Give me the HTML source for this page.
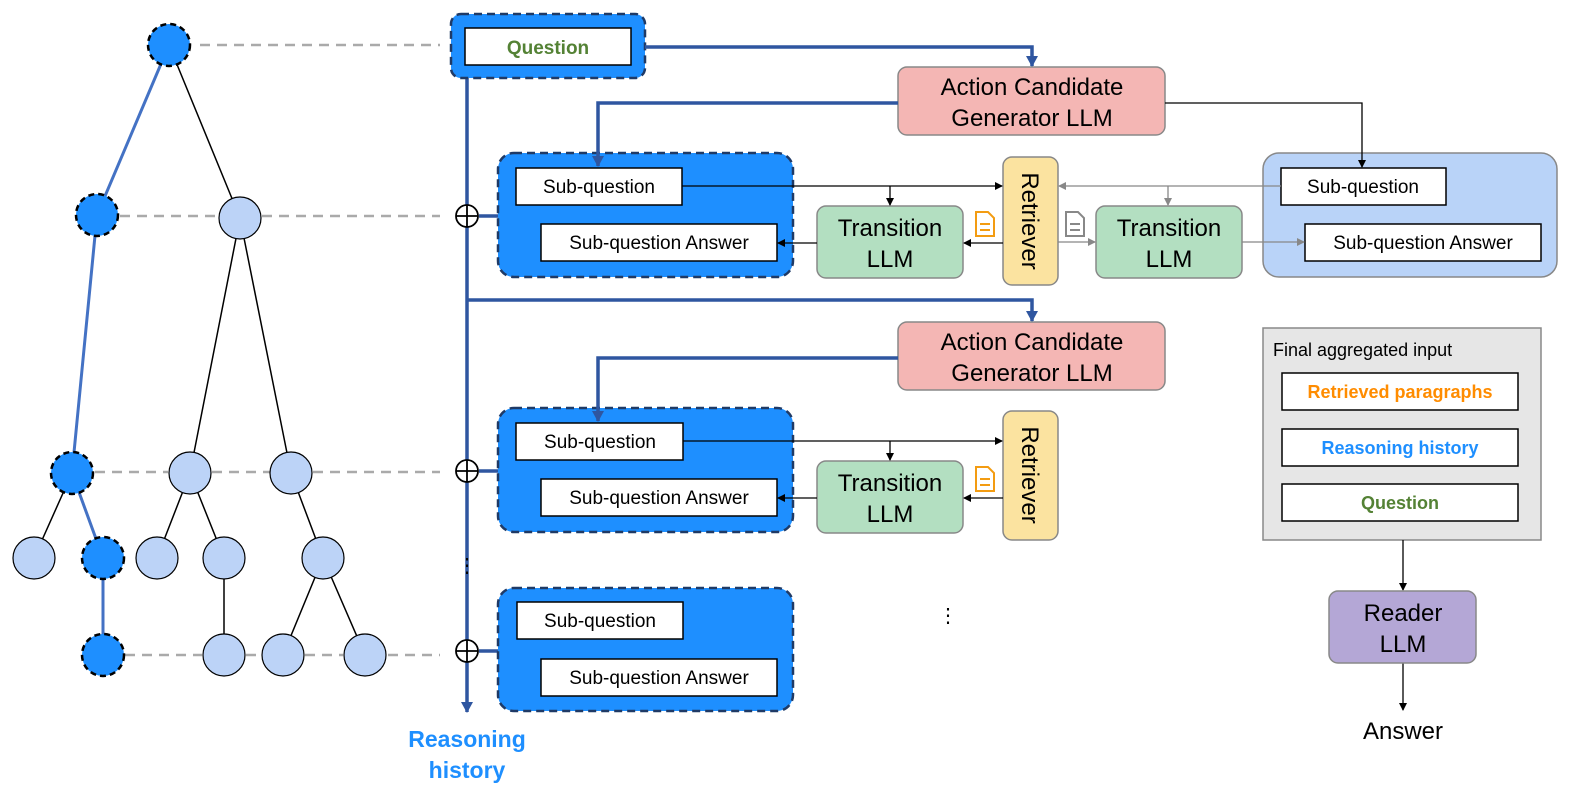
<!DOCTYPE html>
<html><head><meta charset="utf-8"><style>html,body{margin:0;padding:0;overflow:hidden;background:#fff;width:1578px;height:800px}svg{display:block;font-family:"Liberation Sans",sans-serif}</style></head><body>
<svg width="1578" height="800" viewBox="0 0 1578 800" xmlns="http://www.w3.org/2000/svg">
<defs>
<marker id="ab" markerWidth="8" markerHeight="8" refX="7" refY="4" orient="auto" markerUnits="userSpaceOnUse"><path d="M0,0 L8,4 L0,8z" fill="#000"/></marker>
<marker id="ag" markerWidth="8" markerHeight="8" refX="7" refY="4" orient="auto" markerUnits="userSpaceOnUse"><path d="M0,0 L8,4 L0,8z" fill="#888"/></marker>
<marker id="au" markerWidth="12" markerHeight="12" refX="10" refY="6" orient="auto" markerUnits="userSpaceOnUse"><path d="M0,0 L11,6 L0,12z" fill="#2f56a0"/></marker>
</defs>
<g stroke="#aaa" stroke-width="2.5" stroke-dasharray="10,7" fill="none">
<path d="M200,45H440M120,216H218M262,216H440M95,472H168M212,472H270M313,472H440M125,655H202M246,655H262M305,655H343M388,655H440"/>
</g>
<g stroke="#000" stroke-width="1.5" fill="none">
<path d="M169,45L240,218M240,218L190,473M240,218L291,473M72,473L34,558M190,473L157,558M190,473L224,558M291,473L323,558M224,558L224,655M323,558L283,655M323,558L365,655"/>
</g>
<g stroke="#4472c4" stroke-width="3" fill="none">
<path d="M169,45L97,215L72,473L103,558L103,655"/>
</g>
<g fill="#bcd3f7" stroke="#000" stroke-width="1.2">
<circle cx="240" cy="218" r="21"/><circle cx="190" cy="473" r="21"/><circle cx="291" cy="473" r="21"/>
<circle cx="34" cy="558" r="21"/><circle cx="157" cy="558" r="21"/><circle cx="224" cy="558" r="21"/><circle cx="323" cy="558" r="21"/>
<circle cx="224" cy="655" r="21"/><circle cx="283" cy="655" r="21"/><circle cx="365" cy="655" r="21"/>
</g>
<g fill="#1e8fff" stroke="#000" stroke-width="2.5" stroke-dasharray="6,4">
<circle cx="169" cy="45" r="21"/><circle cx="97" cy="215" r="21"/><circle cx="72" cy="473" r="21"/><circle cx="103" cy="558" r="21"/><circle cx="103" cy="655" r="21"/>
</g>
<path d="M467,78V712" stroke="#2f56a0" stroke-width="3.5" fill="none" marker-end="url(#au)"/>
<g fill="#fff" stroke="#000" stroke-width="1.8">
<circle cx="467" cy="216" r="11"/><circle cx="467" cy="471" r="11"/><circle cx="467" cy="651" r="11"/>
</g>
<g stroke="#000" stroke-width="1.8"><path d="M456,216H478M467,205V227M456,471H478M467,460V482M456,651H478M467,640V662"/></g>
<g stroke="#2f56a0" stroke-width="3.5"><path d="M479,216H498M479,471H498M479,651H498"/></g>
<text x="467" y="572" text-anchor="middle" font-size="20">⋮</text>
<text x="467" y="747" text-anchor="middle" font-size="23" font-weight="bold" fill="#1e8fff">Reasoning</text>
<text x="467" y="778" text-anchor="middle" font-size="23" font-weight="bold" fill="#1e8fff">history</text>
<rect x="451" y="14" width="194" height="64" rx="10" fill="#1e8fff" stroke="#1f3a66" stroke-width="2.5" stroke-dasharray="8,5"/>
<rect x="465" y="28" width="166" height="37" fill="#fff" stroke="#000" stroke-width="1.5"/>
<text x="548" y="54" text-anchor="middle" font-size="19" font-weight="bold" fill="#548235">Question</text>
<g fill="#f4b6b4" stroke="#888" stroke-width="1.5">
<rect x="898" y="67" width="267" height="68" rx="9"/><rect x="898" y="322" width="267" height="68" rx="9"/>
</g>
<g font-size="24" text-anchor="middle">
<text x="1032" y="95">Action Candidate</text><text x="1032" y="126">Generator LLM</text>
<text x="1032" y="350">Action Candidate</text><text x="1032" y="381">Generator LLM</text>
</g>
<g fill="#1e8fff" stroke="#1f3a66" stroke-width="2.5" stroke-dasharray="8,5">
<rect x="498" y="153" width="295" height="124" rx="16"/><rect x="498" y="408" width="295" height="124" rx="16"/><rect x="498" y="588" width="295" height="123" rx="16"/>
</g>
<rect x="1263" y="153" width="294" height="124" rx="16" fill="#b9d3f8" stroke="#888" stroke-width="1.5"/>
<g fill="#fff" stroke="#000" stroke-width="1.5">
<rect x="516" y="168" width="166" height="37"/><rect x="541" y="224" width="236" height="37"/>
<rect x="516" y="423" width="167" height="37"/><rect x="541" y="479" width="236" height="37"/>
<rect x="517" y="602" width="166" height="37"/><rect x="541" y="659" width="236" height="37"/>
<rect x="1281" y="168" width="165" height="37"/><rect x="1305" y="224" width="236" height="37"/>
</g>
<g stroke="#2f56a0" stroke-width="3.5" fill="none">
<path d="M645,47H1032V66" marker-end="url(#au)"/>
<path d="M898,103H598V166" marker-end="url(#au)"/>
<path d="M467,300H1032V321" marker-end="url(#au)"/>
<path d="M898,358H598V421" marker-end="url(#au)"/>
</g>
<g font-size="19" text-anchor="middle">
<text x="599" y="193">Sub-question</text><text x="659" y="249">Sub-question Answer</text>
<text x="600" y="448">Sub-question</text><text x="659" y="504">Sub-question Answer</text>
<text x="600" y="627">Sub-question</text><text x="659" y="684">Sub-question Answer</text>
<text x="1363" y="193">Sub-question</text><text x="1423" y="249">Sub-question Answer</text>
</g>
<g fill="#b3dfc1" stroke="#888" stroke-width="1.5">
<rect x="817" y="206" width="146" height="72" rx="9"/><rect x="1096" y="206" width="146" height="72" rx="9"/><rect x="817" y="461" width="146" height="72" rx="9"/>
</g>
<g font-size="24" text-anchor="middle">
<text x="890" y="236">Transition</text><text x="890" y="267">LLM</text>
<text x="1169" y="236">Transition</text><text x="1169" y="267">LLM</text>
<text x="890" y="491">Transition</text><text x="890" y="522">LLM</text>
</g>
<g fill="#fbe3a0" stroke="#888" stroke-width="1.5">
<rect x="1003" y="157" width="55" height="128" rx="9"/><rect x="1003" y="411" width="55" height="129" rx="9"/>
</g>
<text transform="translate(1022,221) rotate(90)" text-anchor="middle" font-size="24">Retriever</text>
<text transform="translate(1022,475) rotate(90)" text-anchor="middle" font-size="24">Retriever</text>
<g stroke="#000" stroke-width="1.3" fill="none">
<path d="M682,186H1002" marker-end="url(#ab)"/><path d="M890,186V205" marker-end="url(#ab)"/>
<path d="M1003,243H964" marker-end="url(#ab)"/><path d="M817,243H778" marker-end="url(#ab)"/>
<path d="M683,441H1002" marker-end="url(#ab)"/><path d="M890,441V460" marker-end="url(#ab)"/>
<path d="M1003,498H964" marker-end="url(#ab)"/><path d="M817,498H778" marker-end="url(#ab)"/>
<path d="M1165,103H1362V167" marker-end="url(#ab)"/>
</g>
<g stroke="#888" stroke-width="1.3" fill="none">
<path d="M1281,186H1059" marker-end="url(#ag)"/><path d="M1168,186V205" marker-end="url(#ag)"/>
<path d="M1058,242H1095" marker-end="url(#ag)"/><path d="M1242,242H1304" marker-end="url(#ag)"/>
</g>
<g fill="#fff" stroke-width="2">
<path d="M976,212h12l6,6v18h-18z" stroke="#f39c12"/><path d="M980,224h10M980,230h10" stroke="#f39c12"/>
<path d="M1066,212h12l6,6v18h-18z" stroke="#888"/><path d="M1070,224h10M1070,230h10" stroke="#888"/>
<path d="M976,467h12l6,6v18h-18z" stroke="#f39c12"/><path d="M980,479h10M980,485h10" stroke="#f39c12"/>
</g>
<text x="948" y="622" text-anchor="middle" font-size="20">⋮</text>
<rect x="1263" y="328" width="278" height="212" fill="#e6e6e6" stroke="#888" stroke-width="1.5"/>
<text x="1273" y="356" font-size="18">Final aggregated input</text>
<g fill="#fff" stroke="#000" stroke-width="1.5">
<rect x="1282" y="373" width="236" height="37"/><rect x="1282" y="429" width="236" height="37"/><rect x="1282" y="484" width="236" height="37"/>
</g>
<g font-size="18" font-weight="bold" text-anchor="middle">
<text x="1400" y="398" fill="#ff8c00">Retrieved paragraphs</text>
<text x="1400" y="454" fill="#1e8fff">Reasoning history</text>
<text x="1400" y="509" fill="#548235">Question</text>
</g>
<g stroke="#000" stroke-width="1.3" fill="none"><path d="M1403,540V590" marker-end="url(#ab)"/><path d="M1403,663V710" marker-end="url(#ab)"/></g>
<rect x="1329" y="591" width="147" height="72" rx="9" fill="#b4a7d6" stroke="#888" stroke-width="1.5"/>
<text x="1403" y="621" text-anchor="middle" font-size="24">Reader</text>
<text x="1403" y="652" text-anchor="middle" font-size="24">LLM</text>
<text x="1403" y="739" text-anchor="middle" font-size="24">Answer</text>
</svg>
</body></html>
